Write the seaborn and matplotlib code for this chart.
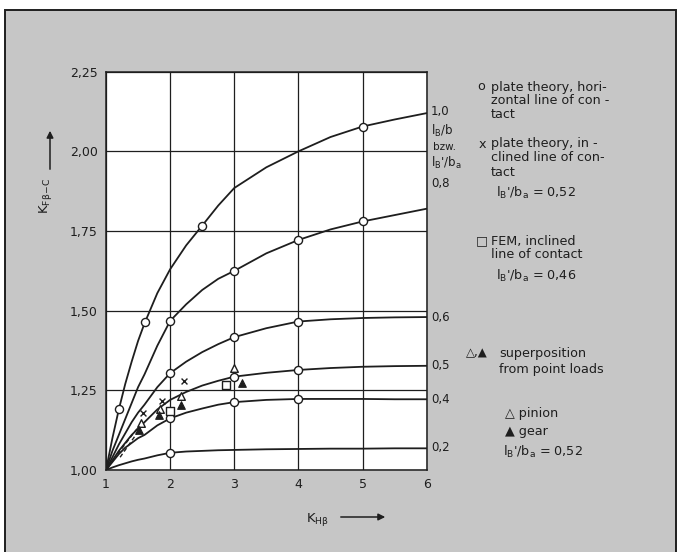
import numpy as np
import pandas as pd
import matplotlib
matplotlib.use("Agg")
import matplotlib.pyplot as plt
import seaborn as sns
from matplotlib.patches import Rectangle, FancyArrowPatch

# ── Data (x = K_Hbeta, y = K_Fbeta-C)
curve_x = [1.0, 1.1, 1.2, 1.3, 1.4, 1.5, 1.6, 1.8, 2.0, 2.25, 2.5, 2.75,
           3.0, 3.5, 4.0, 4.5, 5.0, 5.5, 6.0]
y_10 = [1.00, 1.10, 1.19, 1.27, 1.34, 1.405, 1.46, 1.555, 1.63, 1.705, 1.767,
        1.83, 1.885, 1.95, 2.00, 2.045, 2.078, 2.10, 2.12]
y_08 = [1.00, 1.06, 1.11, 1.16, 1.21, 1.26, 1.30, 1.39, 1.468, 1.52, 1.565,
        1.60, 1.625, 1.68, 1.722, 1.755, 1.78, 1.80, 1.82]
y_06 = [1.00, 1.04, 1.08, 1.115, 1.15, 1.18, 1.205, 1.26, 1.304, 1.34, 1.37,
        1.395, 1.417, 1.445, 1.466, 1.473, 1.477, 1.479, 1.48]
y_05 = [1.00, 1.03, 1.06, 1.085, 1.11, 1.13, 1.15, 1.19, 1.22, 1.245, 1.265,
        1.28, 1.293, 1.305, 1.314, 1.32, 1.324, 1.326, 1.327]
y_04 = [1.00, 1.025, 1.05, 1.07, 1.085, 1.10, 1.11, 1.14, 1.162, 1.18, 1.193,
        1.205, 1.213, 1.22, 1.223, 1.223, 1.223, 1.222, 1.222]
y_02 = [1.00, 1.008, 1.015, 1.021, 1.027, 1.032, 1.036, 1.046, 1.054, 1.058,
        1.060, 1.062, 1.063, 1.065, 1.066, 1.067, 1.067, 1.068, 1.068]
ratios = ["1,0", "0,8", "0,6", "0,5", "0,4", "0,2"]

# plate theory, horizontal line of contact (circles)
circ_x = [1.21, 1.61, 2.5, 5.0, 2.0, 3.0, 4.0, 5.0, 2.0, 3.0, 4.0, 3.0, 4.0, 2.0, 3.0, 4.0, 2.0]
circ_y = [1.19, 1.464, 1.767, 2.078, 1.468, 1.625, 1.722, 1.780, 1.304, 1.417, 1.466,
          1.293, 1.314, 1.162, 1.213, 1.223, 1.054]

# plate theory, inclined line of contact (x)
cross_x = [1.57, 1.88, 2.22]
cross_y = [1.18, 1.215, 1.28]

# FEM, inclined line of contact (squares)
sq_x = [2.0, 2.87]
sq_y = [1.185, 1.268]

# superposition from point loads
pinion_x = [1.55, 1.84, 2.17, 3.0]
pinion_y = [1.147, 1.19, 1.233, 1.32]
gear_x   = [1.52, 1.83, 2.17, 3.12]
gear_y   = [1.126, 1.173, 1.204, 1.272]
dash_p_x = [1.18, 1.55]
dash_p_y = [1.05, 1.147]
dash_g_x = [1.22, 1.52]
dash_g_y = [1.04, 1.126]

x_ticks = [1, 2, 3, 4, 5, 6]
y_ticks = [1.00, 1.25, 1.50, 1.75, 2.00, 2.25]
y_tick_labels = ["1,00", "1,25", "1,50", "1,75", "2,00", "2,25"]

curves = pd.DataFrame({
    "x": curve_x * 6,
    "y": y_10 + y_08 + y_06 + y_05 + y_04 + y_02,
    "ratio": sum([[r] * len(curve_x) for r in ratios], []),
})

# ── Figure
sns.set_style("white")
plt.rcParams["font.family"] = ["DejaVu Sans"]
INK = "#1e1e1e"
GREY = "#c6c6c6"

fig = plt.figure(figsize=(6.85, 5.52), dpi=100)
fig.patch.set_facecolor("white")
fig.patches.append(Rectangle((5 / 685, -0.05), 671 / 685, 1 - 10 / 552 + 0.05,
                             transform=fig.transFigure, facecolor=GREY,
                             edgecolor=INK, linewidth=1.4, zorder=-5))

ax = fig.add_axes([106 / 685, 1 - 470 / 552, 320.7 / 685, 398.3 / 552])
ax.set_zorder(2)
ax.set_facecolor("white")

sns.lineplot(data=curves, x="x", y="y", units="ratio", estimator=None,
             color=INK, linewidth=1.3, ax=ax, sort=False, zorder=3)

ax.plot(dash_p_x, dash_p_y, color=INK, lw=1.0, ls=(0, (3, 2)), zorder=3)
ax.plot(dash_g_x, dash_g_y, color=INK, lw=1.0, ls=(0, (3, 2)), zorder=3)

sns.scatterplot(x=circ_x, y=circ_y, marker="o", s=34, facecolor="white",
                edgecolor=INK, linewidth=1.0, ax=ax, zorder=5)
sns.scatterplot(x=sq_x, y=sq_y, marker="s", s=26, facecolor="white",
                edgecolor=INK, linewidth=1.0, ax=ax, zorder=5)
sns.scatterplot(x=pinion_x, y=pinion_y, marker="^", s=30, facecolor="white",
                edgecolor=INK, linewidth=1.0, ax=ax, zorder=6)
sns.scatterplot(x=gear_x, y=gear_y, marker="^", s=30, color=INK,
                edgecolor=INK, linewidth=0.8, ax=ax, zorder=6)
ax.scatter(cross_x, cross_y, marker="x", s=18, color=INK, linewidth=1.0, zorder=6)

ax.set_xlim(1, 6)
ax.set_ylim(1.0, 2.25)
ax.set_xticks(x_ticks)
ax.set_xticklabels([str(t) for t in x_ticks])
ax.set_yticks(y_ticks)
ax.set_yticklabels(y_tick_labels)
ax.grid(True, color=INK, linewidth=0.9)
ax.set_axisbelow(True)
for s in ax.spines.values():
    s.set_color(INK)
    s.set_linewidth(1.1)
ax.tick_params(axis="both", direction="out", length=4, width=1.0, color=INK,
               labelcolor=INK, labelsize=9, pad=2)
ax.set_xlabel("")
ax.set_ylabel("")

# ── Axis titles with arrows
fig.text(318 / 685, 1 - 519 / 552, r"K$_{\mathregular{H\beta}}$", fontsize=9.5,
         color=INK, ha="center", va="center")
fig.add_artist(FancyArrowPatch(
    (338 / 685, 1 - 517 / 552), (388 / 685, 1 - 517 / 552),
    transform=fig.transFigure, arrowstyle="-|>", mutation_scale=10,
    color=INK, lw=1.1))
fig.text(45 / 685, 1 - 196 / 552, r"K$_{\mathregular{F\beta\!-\!C}}$", fontsize=9.5,
         color=INK, ha="center", va="center", rotation=90)
fig.add_artist(FancyArrowPatch(
    (50 / 685, 1 - 172 / 552), (50 / 685, 1 - 128 / 552),
    transform=fig.transFigure, arrowstyle="-|>", mutation_scale=10,
    color=INK, lw=1.1))

# ── Curve labels on the right
def ftxt(x, y, s, size=9.2, **kw):
    fig.text(x / 685, 1 - y / 552, s, fontsize=size, color=INK, va="center", **kw)

ftxt(431, 112, "1,0", size=8.5)
ftxt(431, 131, r"l$_\mathregular{B}$/b", size=8.5)
ftxt(433, 147, "bzw.", size=7.5)
ftxt(431, 163, r"l$_\mathregular{B}$'/b$_\mathregular{a}$", size=8.5)
ftxt(431, 184, "0,8", size=8.5)
ftxt(431, 317, "0,6", size=8.5)
ftxt(431, 366, "0,5", size=8.5)
ftxt(431, 399, "0,4", size=8.5)
ftxt(431, 447, "0,2", size=8.5)

# ── Legend block
ftxt(477, 87, "o")
ftxt(491, 87, "plate theory, hori-")
ftxt(491, 101, "zontal line of con -")
ftxt(491, 115, "tact")
ftxt(479, 144, "x")
ftxt(491, 144, "plate theory, in -")
ftxt(491, 158, "clined line of con-")
ftxt(491, 172, "tact")
ftxt(496, 193, r"l$_\mathregular{B}$'/b$_\mathregular{a}$ = 0,52")
ftxt(476, 241, "□")
ftxt(491, 241, "FEM, inclined")
ftxt(491, 255, "line of contact")
ftxt(496, 276, r"l$_\mathregular{B}$'/b$_\mathregular{a}$ = 0,46")
ftxt(466, 353, "△,▲", size=8.5)
ftxt(499, 353, "superposition")
ftxt(499, 369, "from point loads")
ftxt(505, 413, "△ pinion")
ftxt(505, 432, "▲ gear")
ftxt(503, 452, r"l$_\mathregular{B}$'/b$_\mathregular{a}$ = 0,52")

fig.savefig("out.png", dpi=100)
